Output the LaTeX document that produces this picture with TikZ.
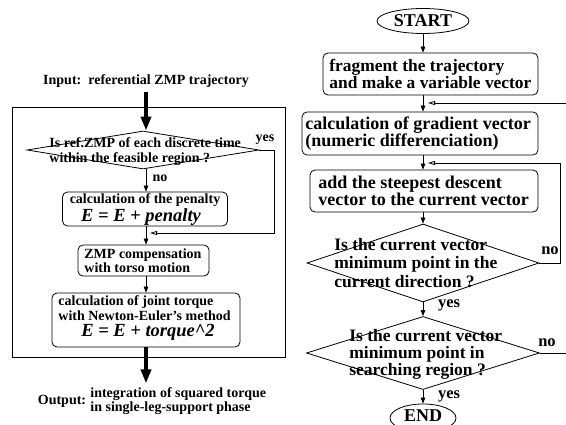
\documentclass[tikz,border=0pt]{standalone}
\usepackage{fontspec}
\setmainfont{Liberation Serif}
\usetikzlibrary{arrows.meta,shapes.geometric}
\begin{document}
\begin{tikzpicture}[x=1pt,y=-1pt,
  line width=0.8pt,
  lfont/.style={font=\fontsize{14}{14.5}\selectfont\bfseries},
  rfont/.style={font=\fontsize{18}{17.5}\selectfont\bfseries},
  efont/.style={font=\fontsize{18.5}{18.5}\selectfont\bfseries\itshape},
  box/.style={draw, rounded corners=5pt, inner sep=0pt},
  txt/.style={inner sep=0pt, align=left, anchor=west},
  dia/.style={draw, diamond, inner sep=0pt},
  arr/.style={-{Triangle[length=6pt,width=4.5pt]}},
  oarr/.style={-{Triangle[open,length=7pt,width=4pt]}},
  bigarr/.style={line width=4pt,-{Triangle[length=14pt,width=10pt]}},
  lab/.style={inner sep=0pt}
]
\useasboundingbox (0,0) rectangle (566,425);

% ---------------- left flow ----------------
\node[lfont, lab] (inp) at (146,81) {Input:\ \ referential ZMP trajectory};
\node[draw, line width=1pt, minimum width=273pt, minimum height=250pt, inner sep=0pt] (frame) at (148.5,233) {};
\node[dia, minimum width=232pt, minimum height=38pt] (dA) at (143,150) {};
\node[lfont, txt, font=\fontsize{14}{15}\selectfont\bfseries] (dAt) at (49,152) {Is ref.ZMP of each discrete time\\within the feasible region ?};
\node[box, minimum width=165pt, minimum height=34pt] (pen) at (145,209) {};
\node[lfont, lab] (pent) at (145,200) {calculation of the penalty};
\node[efont, lab] (pene) at (141,217) {E = E + penalty};
\node[box, minimum width=131pt, minimum height=31pt] (zmp) at (143.5,260.5) {};
\node[lfont, txt] (zmpt) at (84,260.5) {ZMP compensation\\with torso motion};
\node[box, minimum width=188pt, minimum height=54pt] (trq) at (146,320) {};
\node[lfont, txt] (trqt) at (58,308) {calculation of joint torque\\with Newton-Euler's method};
\node[efont, lab] (trqe) at (148,332) {E = E + torque\^{}2};
\node[lfont, lab] (outl) at (62,401) {Output:};
\node[lfont, txt] (outt) at (90,401) {integration of squared torque\\in single-leg-support phase};

\draw[bigarr] (inp.south) ++(0,4) coordinate (ia) -- (ia |- dA.north);
\draw[arr] (dA.south -| ia) -- (ia |- pen.north);
\draw[arr] (ia |- pen.south) -- (ia |- zmp.north);
\draw[arr] (ia |- zmp.south) -- (ia |- trq.north);
\draw[bigarr] (ia |- trq.south) -- ++(0,36) coordinate (oa);
\coordinate (lfb) at (150,233);
\draw[oarr] (dA.east) -- (274,150) -- (274,233) -- (lfb);
\node[lfont, lab] (yesA) at (265,140) {yes};
\node[lfont, lab] (noA) at (160,178) {no};

% ---------------- right flow ----------------
\node[draw, ellipse, minimum width=92pt, minimum height=25pt, inner sep=0pt] (start) at (423,21) {};
\node[rfont, lab] (startt) at (423,21) {START};
\node[box, minimum width=215pt, minimum height=42pt] (b1) at (430.5,74) {};
\node[rfont, txt, font=\fontsize{17.4}{17.5}\selectfont\bfseries] (b1t) at (329,74) {fragment the trajectory\\and make a variable vector};
\node[box, minimum width=236pt, minimum height=43pt] (b2) at (420,133.5) {};
\node[rfont, txt] (b2t) at (305,133.5) {calculation of gradient vector\\(numeric differenciation)};
\node[box, minimum width=228pt, minimum height=42pt] (b3) at (424,191) {};
\node[rfont, txt] (b3t) at (318,191) {add the steepest descent\\vector to the current vector};
\node[dia, minimum width=232pt, minimum height=78pt] (d1) at (423,263) {};
\node[rfont, txt, font=\fontsize{17.5}{18.5}\selectfont\bfseries] (d1t) at (334,263) {Is the current vector\\minimum point in the\\current direction ?};
\node[dia, minimum width=233pt, minimum height=73pt] (d2) at (423,353) {};
\node[rfont, txt, font=\fontsize{17.5}{17}\selectfont\bfseries] (d2t) at (349,354) {Is the current vector\\minimum point in\\searching region ?};
\node[draw, ellipse, minimum width=66pt, minimum height=28pt, inner sep=0pt] (end) at (423,418) {};
\node[rfont, lab] (endt) at (423,416) {END};

\draw[arr] (start.south) -- (start.south |- b1.north);
\draw[arr] (start.south |- b1.south) -- (start.south |- b2.north);
\draw[arr] (start.south |- b2.south) -- (start.south |- b3.north);
\draw[arr] (start.south |- b3.south) -- (d1.north);
\draw[arr] (d1.south) -- (d2.north);
\draw[arr] (d2.south) -- (end.north);

\coordinate (rfa) at (566,103);
\coordinate (rfa2) at (428,103);
\draw[oarr] (rfa) -- (rfa2);
\coordinate (rfb) at (428,163);
\draw[oarr] (d1.east) -- (560,263) -- (560,163) -- (rfb);
\coordinate (rfc) at (566,353);
\draw (d2.east) -- (rfc);

\node[rfont, lab, font=\fontsize{16.5}{16.5}\selectfont\bfseries] (no1) at (550,251) {no};
\node[rfont, lab, font=\fontsize{16.5}{16.5}\selectfont\bfseries] (yes1) at (449,305) {yes};
\node[rfont, lab, font=\fontsize{16.5}{16.5}\selectfont\bfseries] (no2) at (547,343) {no};
\node[rfont, lab, font=\fontsize{16.5}{16.5}\selectfont\bfseries] (yes2) at (449,396) {yes};
\end{tikzpicture}
\end{document}
